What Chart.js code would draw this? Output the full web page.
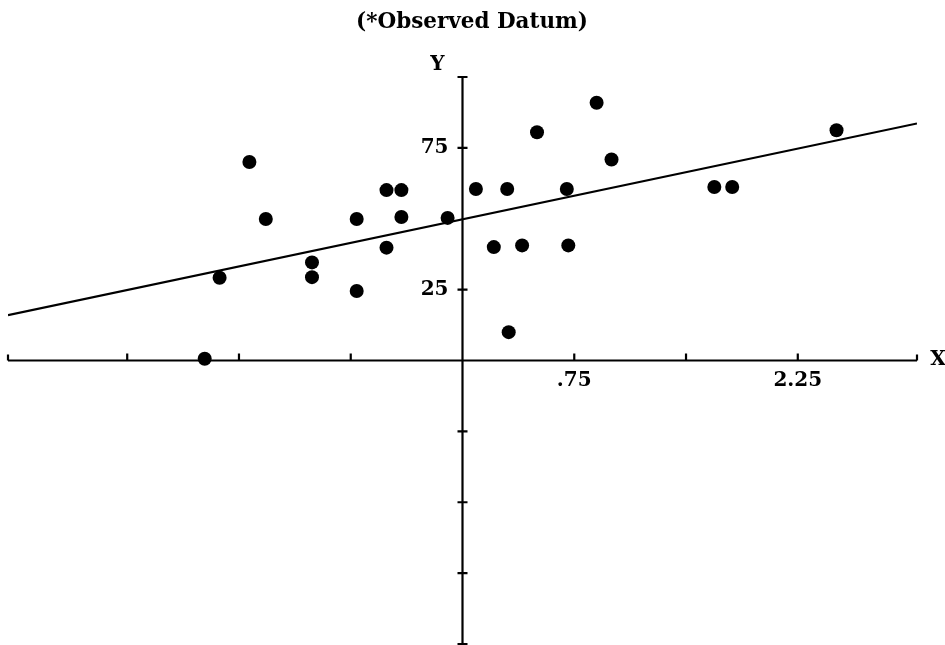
<!DOCTYPE html>
<html>
<head>
<meta charset="utf-8">
<script src="https://cdn.jsdelivr.net/npm/chart.js@4"></script>
<style>
  html, body { margin: 0; padding: 0; background: #fff; overflow: hidden; }
  canvas { display: block; }
</style>
</head>
<body>
<canvas id="scatter" width="945" height="645"></canvas>
<script>
// observed data points
const pointX = [-1.73, -1.63, -1.43, -1.32, -1.01, -1.01, -0.71, -0.71, -0.51, -0.51, -0.41, -0.41, -0.10,
                0.09, 0.21, 0.30, 0.31, 0.40, 0.50, 0.70, 0.71, 0.90, 1.00, 1.69, 1.81, 2.51];
const pointY = [0.6, 29.2, 70, 49.9, 34.6, 29.4, 49.9, 24.5, 60.1, 39.8, 60.1, 50.6, 50.3,
                60.5, 40, 60.5, 10, 40.6, 80.5, 60.5, 40.6, 90.9, 70.9, 61.2, 61.2, 81.2];

// fitted line (ends)
const fitX = [-3.05, 3.05];
const fitY = [16, 83.6];

// axis ticks
const xTicks = [-2.25, -1.5, -0.75, 0.75, 1.5, 2.25];
const xTickLabels = { '0.75': '.75', '2.25': '2.25' };
const yTicks = [-75, -50, -25, 25, 75];
const yTickLabels = { '25': '25', '75': '75' };

const FONT = 'bold 20px "DejaVu Serif", serif';

// draws the crossing axes through the origin
const axesPlugin = {
    id: 'axes',
    beforeDatasetsDraw(chart) {
        const ctx = chart.ctx;
        const xs = chart.scales.x, ys = chart.scales.y;
        const x0 = xs.getPixelForValue(0), y0 = ys.getPixelForValue(0);
        const left = xs.getPixelForValue(xs.min), right = xs.getPixelForValue(xs.max);
        const top = ys.getPixelForValue(ys.max), bottom = ys.getPixelForValue(ys.min);
        ctx.save();
        ctx.strokeStyle = '#000';
        ctx.lineWidth = 2.2;
        ctx.beginPath();
        ctx.moveTo(left, y0); ctx.lineTo(right, y0);
        ctx.moveTo(x0, top); ctx.lineTo(x0, bottom);
        // end caps
        ctx.moveTo(left, y0); ctx.lineTo(left, y0 - 6);
        ctx.moveTo(right, y0); ctx.lineTo(right, y0 - 6);
        ctx.moveTo(x0 - 5, top); ctx.lineTo(x0 + 5, top);
        ctx.moveTo(x0 - 5, bottom); ctx.lineTo(x0 + 5, bottom);
        xTicks.forEach(v => {
            const px = xs.getPixelForValue(v);
            ctx.moveTo(px, y0); ctx.lineTo(px, y0 - 7);
        });
        yTicks.forEach(v => {
            const py = ys.getPixelForValue(v);
            ctx.moveTo(x0 - 5, py); ctx.lineTo(x0 + 5, py);
        });
        ctx.stroke();

        ctx.fillStyle = '#000';
        ctx.font = FONT;
        ctx.textAlign = 'center';
        ctx.textBaseline = 'middle';
        xTicks.forEach(v => {
            const lbl = xTickLabels[String(v)];
            if (lbl) ctx.fillText(lbl, xs.getPixelForValue(v), y0 + 20);
        });
        ctx.textAlign = 'right';
        yTicks.forEach(v => {
            const lbl = yTickLabels[String(v)];
            if (lbl) ctx.fillText(lbl, x0 - 14, ys.getPixelForValue(v));
        });
        // axis names
        ctx.textAlign = 'center';
        ctx.fillText('Y', x0 - 25, top - 12);
        ctx.fillText('X', right + 21, y0 - 1);
        // title
        ctx.font = 'bold 21.5px "DejaVu Serif", serif';
        ctx.fillText('(*Observed Datum)', 472, 22);
        ctx.restore();
    }
};

const pts = pointX.map((x, i) => ({ x: x, y: pointY[i] }));
const fit = fitX.map((x, i) => ({ x: x, y: fitY[i] }));

new Chart(document.getElementById('scatter'), {
    type: 'scatter',
    data: {
        datasets: [{
            label: 'Observed',
            data: pts,
            backgroundColor: '#000',
            borderWidth: 0,
            pointRadius: 7
        }, {
            type: 'line',
            label: 'Fit',
            data: fit,
            borderColor: '#000',
            borderWidth: 2.2,
            pointRadius: 0,
            fill: false
        }]
    },
    options: {
        responsive: false,
        animation: false,
        layout: { autoPadding: false, padding: { left: 8, right: 28, top: 77, bottom: 1 } },
        plugins: { legend: { display: false }, tooltip: { enabled: false } },
        scales: {
            x: { type: 'linear', min: -3.05, max: 3.05, display: false },
            y: { type: 'linear', min: -100, max: 100, display: false }
        }
    },
    plugins: [axesPlugin]
});
</script>
</body>
</html>
